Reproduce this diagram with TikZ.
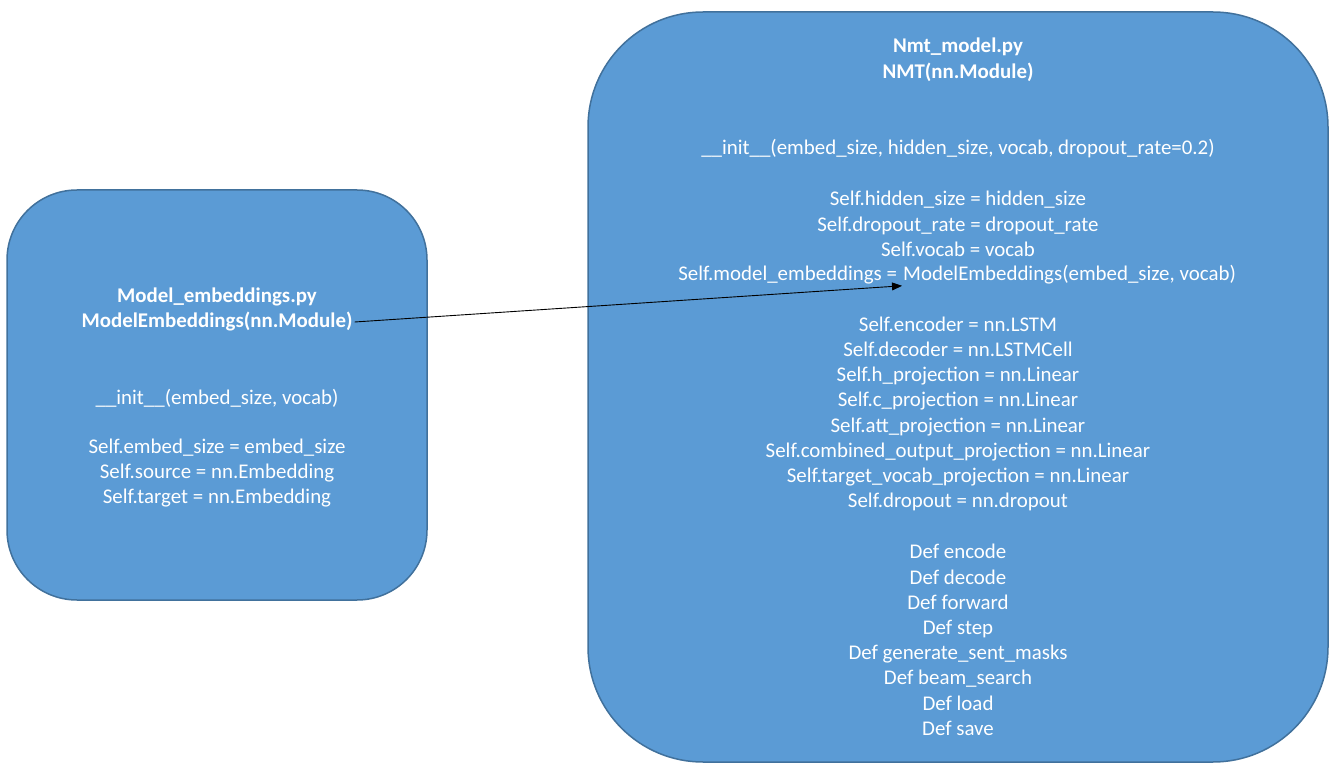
\documentclass[tikz,border=0pt]{standalone}
\usepackage{fontspec}
\setmainfont{Carlito}
\usetikzlibrary{positioning,arrows.meta}
\definecolor{boxfill}{HTML}{5B9BD5}
\definecolor{boxline}{HTML}{41719C}
\tikzset{
  pybox/.style={draw=boxline, fill=boxfill, line width=1.5pt},
  codetxt/.style={text=white, align=center, inner sep=2pt,
    font=\fontsize{20.9}{25.2}\selectfont},
  headtxt/.style={codetxt, font=\fontsize{20.9}{25.2}\selectfont\bfseries},
  arr/.style={-{Triangle[length=10pt, width=8pt]}, line width=0.9pt, black},
}
\begin{document}
\begin{tikzpicture}[x=1pt, y=-1pt]
  \useasboundingbox (0,0) rectangle (1338,775);
  % the two files
  \node[pybox, minimum width=420pt, minimum height=410pt, rounded corners=70pt] (embbox) at (217,395) {};
  \node[pybox, minimum width=740pt, minimum height=750pt, rounded corners=115pt] (nmtbox) at (958,387) {};
  % model_embeddings.py
  \node[headtxt] (embfile) at (217,297) {Model\_embeddings.py};
  \node[headtxt] (embclass) at (217,322) {ModelEmbeddings(nn.Module)};
  \node[codetxt] (embinit) at (217,398) {\_\_init\_\_(embed\_size, vocab)};
  \node[codetxt] (embattrs) at (217,473) {Self.embed\_size = embed\_size\\
    Self.source = nn.Embedding\\Self.target = nn.Embedding};
  % nmt_model.py
  \node[headtxt] (nmtfile) at (958,47) {Nmt\_model.py};
  \node[headtxt] (nmtclass) at (958,72) {NMT(nn.Module)};
  \node[codetxt] (nmtinit) at (958,149) {\_\_init\_\_(embed\_size, hidden\_size, vocab, dropout\_rate=0.2)};
  \node[codetxt] (nmtattrs) at (958,224) {Self.hidden\_size = hidden\_size\\
    Self.dropout\_rate = dropout\_rate\\Self.vocab = vocab};
  \node[codetxt, inner sep=0pt, anchor=base east] (modelattr) at (902,281) {Self.model\_embeddings =\ };
  \node[codetxt, inner sep=1pt, anchor=base west] (modelcall) at (902,281) {ModelEmbeddings(embed\_size, vocab)};
  \node[codetxt] (nmtlayers) at (958,414) {Self.encoder = nn.LSTM\\
    Self.decoder = nn.LSTMCell\\Self.h\_projection = nn.Linear\\
    Self.c\_projection = nn.Linear\\Self.att\_projection = nn.Linear\\
    Self.combined\_output\_projection = nn.Linear\\
    Self.target\_vocab\_projection = nn.Linear\\Self.dropout = nn.dropout};
  \node[codetxt] (nmtdefs) at (958,640) {Def encode\\Def decode\\Def forward\\
    Def step\\Def generate\_sent\_masks\\Def beam\_search\\Def load\\Def save};
  \draw[arr] (embclass.east) -- (modelcall.south west);
\end{tikzpicture}
\end{document}
